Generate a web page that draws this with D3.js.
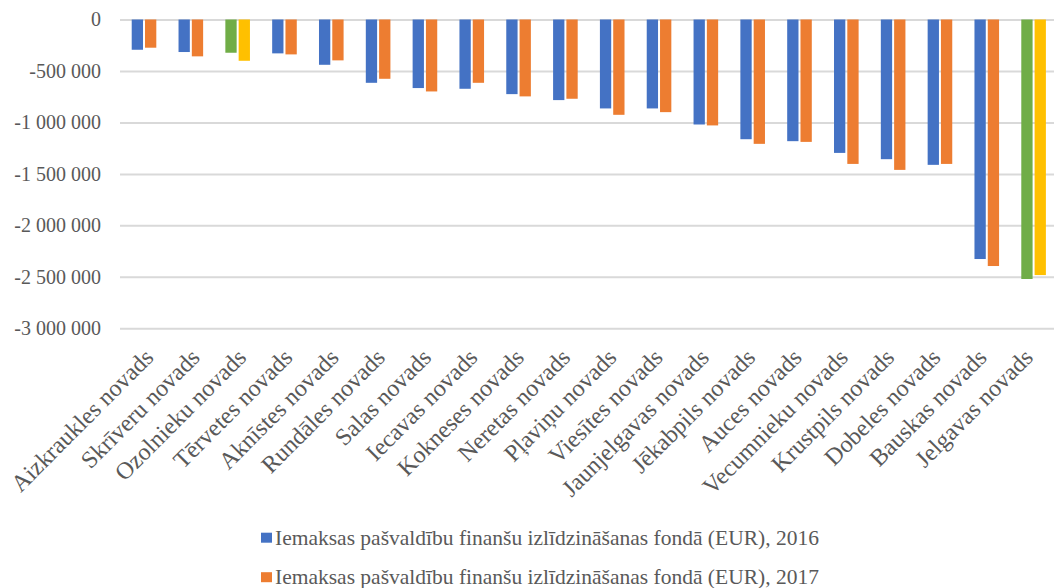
<!DOCTYPE html>
<html><head><meta charset="utf-8">
<script src="https://cdn.jsdelivr.net/npm/d3@7"></script>
<style>body{margin:0;background:#fff}svg{display:block}text{font-family:"Liberation Serif","Times New Roman",serif;fill:#595959}</style>
</head><body><svg id="c" width="1054" height="588"></svg>
<script>
const categories = ["Aizkraukles novads","Skrīveru novads","Ozolnieku novads","Tērvetes novads","Aknīstes novads","Rundāles novads","Salas novads","Iecavas novads","Kokneses novads","Neretas novads","Pļaviņu novads","Viesītes novads","Jaunjelgavas novads","Jēkabpils novads","Auces novads","Vecumnieku novads","Krustpils novads","Dobeles novads","Bauskas novads","Jelgavas novads"];
const values2016 = [-294000,-316000,-323000,-329000,-440000,-615000,-666000,-673000,-725000,-783000,-864000,-864000,-1020000,-1163000,-1182000,-1296000,-1357000,-1412000,-2327000,-2521000];
const values2017 = [-274000,-358000,-401000,-339000,-397000,-576000,-699000,-615000,-747000,-770000,-926000,-900000,-1029000,-1208000,-1189000,-1403000,-1461000,-1403000,-2395000,-2483000];
const highlighted = ["Ozolnieku novads","Jelgavas novads"];
const seriesNames = ["Iemaksas pašvaldību finanšu izlīdzināšanas fondā (EUR), 2016","Iemaksas pašvaldību finanšu izlīdzināšanas fondā (EUR), 2017"];
const yTicks = [0,-500000,-1000000,-1500000,-2000000,-2500000,-3000000];

const colors = ["#4472C4","#ED7D31"], hiColors = ["#70AD47","#FFC000"];
const svg = d3.select("#c");
const x = d3.scaleBand().domain(categories).range([120.6,1057]);
const xLab = d3.scalePoint().domain(categories).range([148.5,1028]);
const y = d3.scaleLinear().domain([0,-3000000]).range([19.5,328.3]);
const fmt = v => v===0 ? "0" : "-" + d3.format(",")(Math.abs(v)).replace(/,/g," ");

const yAxis = svg.append("g").attr("transform","translate(120,0)")
  .call(d3.axisLeft(y).tickValues(yTicks).tickSize(-940).tickFormat(fmt));
yAxis.attr("font-family",null).attr("font-size",null);
yAxis.select(".domain").remove();
yAxis.selectAll("line").attr("stroke","#d9d9d9").attr("stroke-width",2);
yAxis.selectAll("text").attr("x",-19).attr("font-size",20).attr("fill","#595959");

const bw = 11.3, gap = 2;
const series = [values2016, values2017];
series.forEach((vals, si) => {
  svg.append("g").selectAll("rect").data(categories).join("rect")
    .attr("x", c => x(c) + x.bandwidth()/2 + (si===0 ? -gap/2 - bw : gap/2))
    .attr("y", y(0))
    .attr("width", bw)
    .attr("height", (c,i) => y(vals[i]) - y(0))
    .attr("fill", c => highlighted.includes(c) ? hiColors[si] : colors[si]);
});

const xAxis = svg.append("g").attr("transform","translate(0,353)")
  .call(d3.axisBottom(xLab).tickSize(0).tickPadding(0));
xAxis.attr("font-family",null).attr("font-size",null);
xAxis.select(".domain").remove();
xAxis.selectAll("text")
  .attr("font-size",24).attr("fill","#595959")
  .attr("text-anchor","end").attr("y",0).attr("dy","0.35em")
  .attr("transform","rotate(-45)");

const leg = svg.append("g");
seriesNames.forEach((n,i) => {
  const ly = 537.7 + i*39.5;
  leg.append("rect").attr("x",261).attr("y",ly-5).attr("width",11).attr("height",10).attr("fill",colors[i]);
  leg.append("text").attr("x",275).attr("y",ly).attr("dy","0.33em").attr("font-size",21.5).text(n);
});
</script></body></html>
